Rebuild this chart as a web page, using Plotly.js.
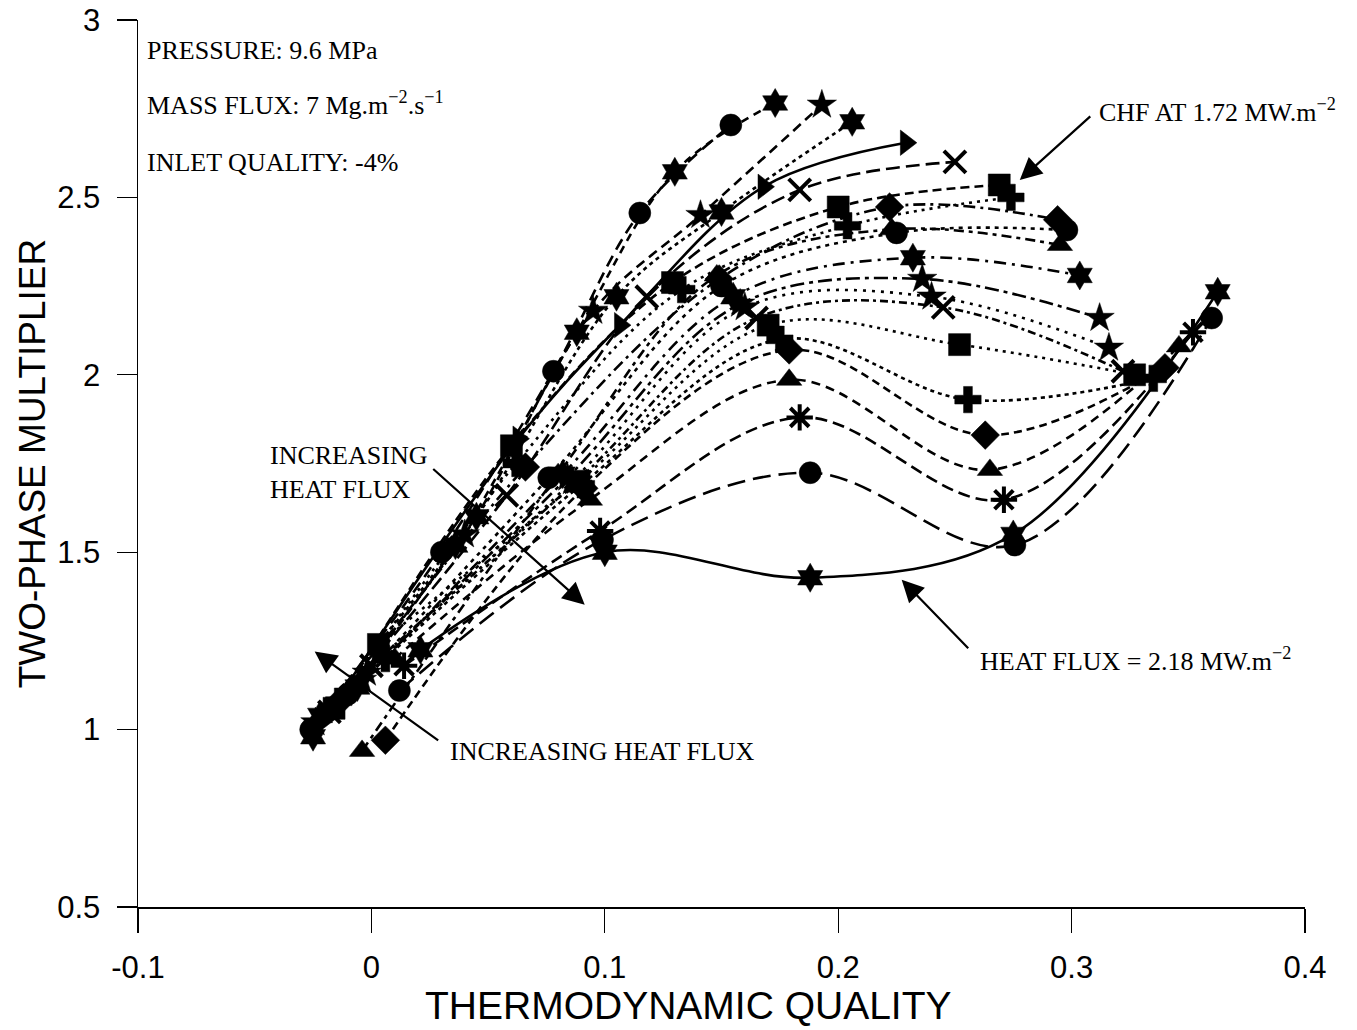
<!DOCTYPE html>
<html>
<head>
<meta charset="utf-8">
<script src="https://cdn.plot.ly/plotly-3.0.1.min.js"></script>
<style>html,body{margin:0;padding:0;background:#fff;}#chart{width:1357px;height:1030px;}</style>
</head>
<body>
<div id="chart"></div>
<script>
// Thermodynamic quality (x) and two-phase multiplier (y), one pair of arrays per heat-flux curve
const c01x = [-0.026, 0.030, 0.078, 0.115, 0.154];  const c01y = [1.00, 1.50, 2.01, 2.456, 2.704];
const c02x = [-0.025, 0.036, 0.088, 0.130, 0.173];  const c02y = [0.98, 1.52, 2.12, 2.572, 2.766];
const c03x = [-0.024, 0.040, 0.095, 0.141, 0.193];  const c03y = [1.02, 1.55, 2.18, 2.450, 2.761];
const c04x = [-0.022, 0.045, 0.105, 0.150, 0.206];  const c04y = [1.04, 1.60, 2.22, 2.459, 2.713];
const c05x = [-0.020, 0.063, 0.1065, 0.168, 0.229]; const c05y = [1.03, 1.82, 2.14, 2.530, 2.654];
const c06x = [-0.018, 0.058, 0.118, 0.1835, 0.250]; const c06y = [1.05, 1.66, 2.22, 2.521, 2.600];
const c07x = [-0.016, 0.060, 0.129, 0.200, 0.269];  const c07y = [1.06, 1.80, 2.26, 2.473, 2.535];
const c08x = [-0.014, 0.062, 0.133, 0.204, 0.274];  const c08y = [1.08, 1.75, 2.24, 2.420, 2.500];
const c09x = [-0.012, 0.066, 0.149, 0.222, 0.294];  const c09y = [1.09, 1.74, 2.27, 2.473, 2.437];
const c10x = [-0.010, 0.076, 0.150, 0.225, 0.298];  const c10y = [1.10, 1.71, 2.25, 2.400, 2.408];
const c11x = [-0.004, 0.080, 0.148, 0.223, 0.295];  const c11y = [0.94, 1.72, 2.28, 2.410, 2.366];
const c12x = [-0.006, 0.082, 0.155, 0.232, 0.3035]; const c12y = [1.12, 1.72, 2.22, 2.330, 2.280];
const c13x = [-0.004, 0.084, 0.158, 0.236, 0.312];  const c13y = [1.14, 1.71, 2.20, 2.270, 2.160];
const c14x = [-0.002, 0.086, 0.160, 0.240, 0.316];  const c14y = [1.16, 1.70, 2.19, 2.220, 2.076];
const c15x = [0.000, 0.088, 0.165, 0.245, 0.322];   const c15y = [1.18, 1.70, 2.16, 2.190, 2.010];
const c16x = [0.003, 0.089, 0.170, 0.252, 0.327];   const c16y = [1.24, 1.70, 2.14, 2.085, 2.000];
const c17x = [0.006, 0.090, 0.175, 0.2556, 0.335];  const c17y = [1.20, 1.69, 2.10, 1.930, 1.990];
const c18x = [0.006, 0.091, 0.179, 0.263, 0.340];   const c18y = [0.97, 1.68, 2.07, 1.830, 2.020];
const c19x = [0.010, 0.0936, 0.179, 0.265, 0.346];  const c19y = [1.20, 1.648, 1.986, 1.732, 2.080];
const c20x = [0.014, 0.098, 0.1835, 0.271, 0.352];  const c20y = [1.18, 1.56, 1.88, 1.648, 2.120];
const c21x = [0.012, 0.099, 0.188, 0.2757, 0.360];  const c21y = [1.11, 1.535, 1.724, 1.520, 2.160];
const c22x = [0.021, 0.100, 0.188, 0.275, 0.3626];  const c22y = [1.225, 1.50, 1.428, 1.550, 2.234];

const xTicks = [-0.1, 0, 0.1, 0.2, 0.3, 0.4];
const xTickText = ['-0.1', '0', '0.1', '0.2', '0.3', '0.4'];
const yTicks = [0.5, 1, 1.5, 2, 2.5, 3];
const yTickText = ['0.5', '1', '1.5', '2', '2.5', '3'];

const curvesX = [c01x,c02x,c03x,c04x,c05x,c06x,c07x,c08x,c09x,c10x,c11x,c12x,c13x,c14x,c15x,c16x,c17x,c18x,c19x,c20x,c21x,c22x];
const curvesY = [c01y,c02y,c03y,c04y,c05y,c06y,c07y,c08y,c09y,c10y,c11y,c12y,c13y,c14y,c15y,c16y,c17y,c18y,c19y,c20y,c21y,c22y];

// styles
const symbols = ['circle','hexagram','star','hexagram','triangle-right','x-thin-open','square','cross',
  'diamond','circle','triangle-up','hexagram','star','star','x-thin-open','square','cross',
  'diamond','triangle-up','asterisk-open','circle','hexagram'];
const dashes = ['12px,7px','8px,6px','10px,6px','4px,4px','solid','14px,6px','9px,5px','3px,5px',
  '12px,5px,3px,5px','4px,5px','10px,5px,4px,5px','12px,6px,3px,6px','14px,5px,4px,5px','3px,6px',
  '8px,4px,3px,4px','3px,5px','4px,4px','8px,5px','9px,6px','12px,6px','18px,8px','solid'];

const traces = curvesX.map((xs, i) => {
  const open = symbols[i].endsWith('-open');
  return {
    type: 'scatter', mode: 'lines+markers',
    x: xs, y: curvesY[i],
    line: {shape: 'spline', smoothing: 1, color: '#000', width: 2.6, dash: dashes[i]},
    marker: {symbol: symbols[i], size: 22, color: '#000',
             line: {color: '#000', width: open ? 4 : 0.5}},
    showlegend: false, hoverinfo: 'skip'
  };
});

const serif = {family: 'Liberation Serif, Times New Roman, serif', size: 26, color: '#000'};
const sans = {family: 'Liberation Sans, Arial, sans-serif', size: 39, color: '#000'};
const arrowStyle = {showarrow: true, arrowhead: 2, arrowsize: 2, arrowwidth: 2.2, arrowcolor: '#000', text: ''};

const layout = {
  width: 1357, height: 1030,
  paper_bgcolor: '#fff', plot_bgcolor: '#fff',
  margin: {l: 138, r: 52, t: 20, b: 123},
  xaxis: {
    range: [-0.1, 0.4], tickvals: xTicks, ticktext: xTickText,
    showgrid: false, zeroline: false, showline: true, linecolor: '#000', linewidth: 1.5,
    ticks: 'outside', ticklen: 24, tickwidth: 1.2, tickcolor: '#000',
    ticklabelstandoff: 8,
    tickfont: {family: 'Liberation Sans, Arial, sans-serif', size: 31, color: '#000'}
  },
  yaxis: {
    range: [0.5, 3], tickvals: yTicks, ticktext: yTickText,
    showgrid: false, zeroline: false, showline: true, linecolor: '#000', linewidth: 1.5,
    ticks: 'outside', ticklen: 20, tickwidth: 1.2, tickcolor: '#000',
    ticklabelstandoff: 10,
    tickfont: {family: 'Liberation Sans, Arial, sans-serif', size: 31, color: '#000'},
    title: {text: 'TWO-PHASE MULTIPLIER', standoff: 0,
            font: {family: 'Liberation Sans, Arial, sans-serif', size: 37, color: '#000'}}
  },
  annotations: [
    {xref: 'paper', yref: 'paper', x: 0.4713, y: -0.1105, xanchor: 'center', yanchor: 'middle', showarrow: false, text: 'THERMODYNAMIC QUALITY', font: sans},
    {x: -0.097, y: 2.915, xanchor: 'left', yanchor: 'middle', showarrow: false, text: 'PRESSURE: 9.6 MPa', font: serif},
    {x: -0.097, y: 2.766, xanchor: 'left', yanchor: 'middle', showarrow: false, text: 'MASS FLUX: 7 Mg.m<sup>\u22122</sup>.s<sup>\u22121</sup>', font: serif},
    {x: -0.097, y: 2.597, xanchor: 'left', yanchor: 'middle', showarrow: false, text: 'INLET QUALITY: -4%', font: serif},
    {x: 0.3108, y: 2.746, xanchor: 'left', yanchor: 'middle', showarrow: false, text: 'CHF AT 1.72 MW.m<sup>\u22122</sup>', font: serif},
    Object.assign({x: 0.2778, y: 2.549, ax: 72, ay: -65}, arrowStyle),
    {x: -0.0444, y: 1.724, xanchor: 'left', yanchor: 'middle', align: 'left', showarrow: false, text: 'INCREASING<br>HEAT FLUX', font: serif},
    Object.assign({x: 0.0914, y: 1.352, ax: -153, ay: -137}, arrowStyle),
    {x: 0.0327, y: 0.938, xanchor: 'left', yanchor: 'middle', showarrow: false, text: 'INCREASING HEAT FLUX', font: serif},
    Object.assign({x: -0.0243, y: 1.22, ax: 125, ay: 90}, arrowStyle),
    {x: 0.2598, y: 1.197, xanchor: 'left', yanchor: 'middle', showarrow: false, text: 'HEAT FLUX = 2.18 MW.m<sup>\u22122</sup>', font: serif},
    Object.assign({x: 0.2272, y: 1.4225, ax: 68, ay: 70}, arrowStyle)
  ]
};

Plotly.newPlot('chart', traces, layout, {displayModeBar: false, staticPlot: true});
</script>
</body>
</html>
